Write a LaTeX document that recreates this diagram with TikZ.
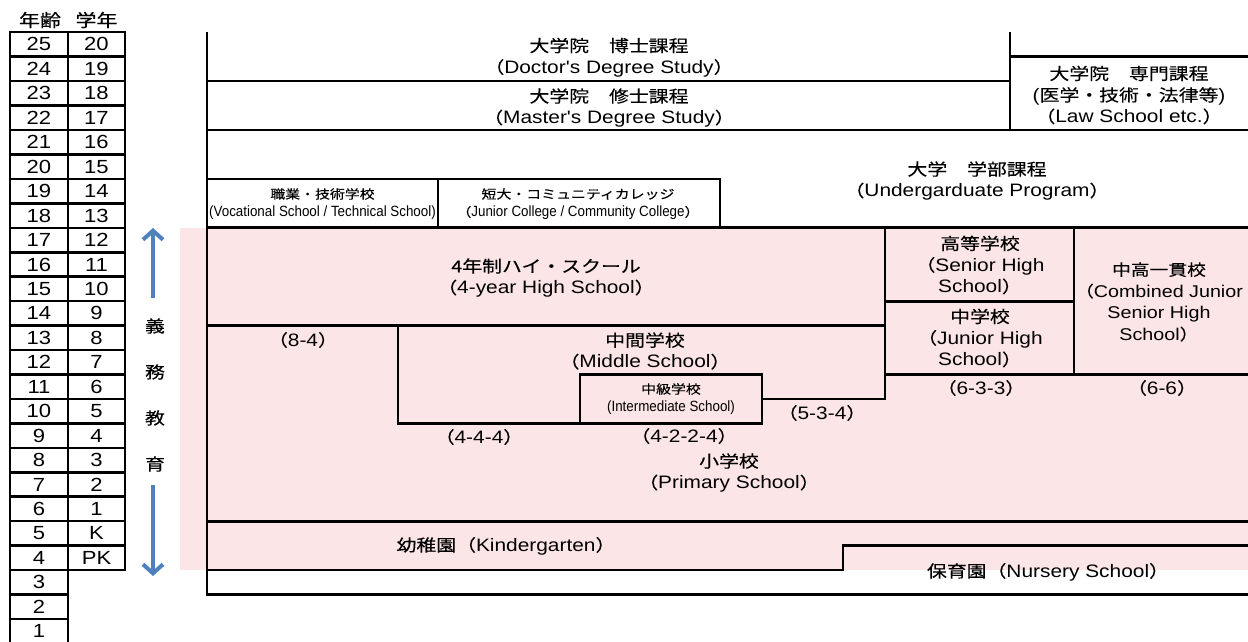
\documentclass[tikz,border=0pt]{standalone}
\usepackage{fontspec}
\setmainfont{Liberation Sans}[FakeStretch=1.16,Ligatures=TeXOff]
\newfontfamily\jp{Noto Sans CJK JP}[FakeStretch=1.2,Scale=0.92,FakeBold=0.3]
\newfontfamily\narrowfont{Liberation Sans}[FakeStretch=0.9,Scale=1.1]
\usetikzlibrary{arrows.meta}

\definecolor{hatchpink}{RGB}{252,229,231}
\definecolor{edublue}{RGB}{79,129,189}
\newcommand{\jlp}{{\jp （}}
\newcommand{\jrp}{{\jp ）}}

\tikzset{
  lineblock/.style={line width=2.7pt},
  agecell/.style={draw,line width=2.5pt,minimum width=58pt,minimum height=24.45pt,inner sep=0pt,font=\fontsize{19}{19}\selectfont},
  gradecell/.style={agecell,minimum width=57pt},
  schooltext/.style={align=center,inner sep=0pt,font=\fontsize{18}{21.5}\selectfont},
  smalltext/.style={align=center,inner sep=0pt,font=\fontsize{13.5}{18}\selectfont\narrowfont},
  eduarrow/.style={draw=edublue,line width=4pt,-{Straight Barb[length=9pt,width=20pt]}},
}

\begin{document}
\begin{tikzpicture}[x=1pt,y=-1pt]
			\useasboundingbox (0,0) rectangle (1248,641);
			\fill[hatchpink] (180,228) rectangle (1248,570.1);

			\draw[lineblock] (207,32.2) -- (207,594.6) -- (1248,594.6);
			\draw[lineblock] (207,81.1) -- (1010,81.1);
			\draw[lineblock] (1010,32.2) -- (1010,130);
			\draw[lineblock] (1010,56.7) -- (1248,56.7);
			\draw[lineblock] (207,130) -- (1248,130);
			\draw[lineblock] (207,178.9) -- (720,178.9) -- (720,227.8);
			\draw[lineblock] (438,178.9) -- (438,227.8);
			\draw[lineblock] (207,227.8) -- (1248,227.8);
			\draw[lineblock] (207,325.6) -- (885,325.6);
			\draw[lineblock] (885,227.8) -- (885,399) -- (762,399);
			\draw[lineblock] (398,325.6) -- (398,423.4) -- (580,423.4);
			\draw[lineblock] (580,374.5) rectangle (762,423.4);
			\draw[lineblock] (885,301.2) -- (1074,301.2);
			\draw[lineblock] (1074,227.8) -- (1074,374.5);
			\draw[lineblock] (885,374.5) -- (1248,374.5);
			\draw[lineblock] (207,521.2) -- (1248,521.2);
			\draw[lineblock] (207,570.1) -- (843,570.1) -- (843,545.7) -- (1248,545.7);

			\node (agehead) at (40,20) {\fontsize{19}{19}\selectfont\jp 年齢};
			\node (gradehead) at (96.5,20) {\fontsize{19}{19}\selectfont\jp 学年};

			\node[agecell] (a25) at (39,44.4) {25};
			\node[agecell] (a24) at (39,68.9) {24};
			\node[agecell] (a23) at (39,93.3) {23};
			\node[agecell] (a22) at (39,117.8) {22};
			\node[agecell] (a21) at (39,142.2) {21};
			\node[agecell] (a20) at (39,166.7) {20};
			\node[agecell] (a19) at (39,191.1) {19};
			\node[agecell] (a18) at (39,215.6) {18};
			\node[agecell] (a17) at (39,240.0) {17};
			\node[agecell] (a16) at (39,264.5) {16};
			\node[agecell] (a15) at (39,288.9) {15};
			\node[agecell] (a14) at (39,313.4) {14};
			\node[agecell] (a13) at (39,337.8) {13};
			\node[agecell] (a12) at (39,362.3) {12};
			\node[agecell] (a11) at (39,386.7) {11};
			\node[agecell] (a10) at (39,411.2) {10};
			\node[agecell] (a9) at (39,435.6) {9};
			\node[agecell] (a8) at (39,460.1) {8};
			\node[agecell] (a7) at (39,484.5) {7};
			\node[agecell] (a6) at (39,509.0) {6};
			\node[agecell] (a5) at (39,533.4) {5};
			\node[agecell] (a4) at (39,557.9) {4};
			\node[agecell] (a3) at (39,582.3) {3};
			\node[agecell] (a2) at (39,606.8) {2};
			\node[agecell] (a1) at (39,631.2) {1};

			\node[gradecell] (g20) at (96.5,44.4) {20};
			\node[gradecell] (g19) at (96.5,68.9) {19};
			\node[gradecell] (g18) at (96.5,93.3) {18};
			\node[gradecell] (g17) at (96.5,117.8) {17};
			\node[gradecell] (g16) at (96.5,142.2) {16};
			\node[gradecell] (g15) at (96.5,166.7) {15};
			\node[gradecell] (g14) at (96.5,191.1) {14};
			\node[gradecell] (g13) at (96.5,215.6) {13};
			\node[gradecell] (g12) at (96.5,240.0) {12};
			\node[gradecell] (g11) at (96.5,264.5) {11};
			\node[gradecell] (g10) at (96.5,288.9) {10};
			\node[gradecell] (g9) at (96.5,313.4) {9};
			\node[gradecell] (g8) at (96.5,337.8) {8};
			\node[gradecell] (g7) at (96.5,362.3) {7};
			\node[gradecell] (g6) at (96.5,386.7) {6};
			\node[gradecell] (g5) at (96.5,411.2) {5};
			\node[gradecell] (g4) at (96.5,435.6) {4};
			\node[gradecell] (g3) at (96.5,460.1) {3};
			\node[gradecell] (g2) at (96.5,484.5) {2};
			\node[gradecell] (g1) at (96.5,509.0) {1};
			\node[gradecell] (gK) at (96.5,533.4) {K};
			\node[gradecell] (gPK) at (96.5,557.9) {PK};

			\node[schooltext] (gi) at (155,326) {\jp 義};
			\node[schooltext] (mu) at (155,372) {\jp 務};
			\node[schooltext] (kyo) at (155,418) {\jp 教};
			\node[schooltext] (iku) at (155,464) {\jp 育};
			\coordinate (uptail) at (153,298);
			\coordinate (uphead) at (153,228);
			\coordinate (downtail) at (153,485);
			\coordinate (downhead) at (153,576);
			\draw[eduarrow] (uptail) -- (uphead);
			\draw[eduarrow] (downtail) -- (downhead);

			\node[schooltext] (doctor) at (609,57.5) {{\jp 大学院　博士課程}\\\jlp Doctor's Degree Study\jrp};
			\node[schooltext] (master) at (609,108) {{\jp 大学院　修士課程}\\\jlp Master's Degree Study\jrp};
			\node[schooltext] (lawschool) at (1129,95) {{\jp 大学院　専門課程}\\({\jp 医学・技術・法律等})\\\jlp Law School etc.\jrp};
			\node[schooltext] (undergrad) at (977,181) {{\jp 大学　学部課程}\\\jlp Undergarduate Program\jrp};
			\node[smalltext] (vocational) at (322.5,204) {{\jp 職業・技術学校}\\(Vocational School / Technical School)};
			\node[smalltext] (jrcollege) at (578,204) {{\jp 短大・コミュニティカレッジ}\\\jlp Junior College / Community College\jrp};
			\node[schooltext] (highfour) at (546,278) {{\jp 4年制ハイ・スクール}\\\jlp 4-year High School\jrp};
			\node[schooltext] (seniorhigh) at (980,265) {{\jp 高等学校}\\\jlp Senior High\\School\jrp};
			\node[schooltext,font=\fontsize{17}{21.5}\selectfont] (combined) at (1159,302) {{\jp 中高一貫校}\\\jlp Combined Junior\\Senior High\\School\jrp};
			\node[schooltext] (juniorhigh) at (980,338) {{\jp 中学校}\\\jlp Junior High\\School\jrp};
			\node[schooltext] (eightfour) at (303,340) {\jlp 8-4\jrp};
			\node[schooltext] (middle) at (645,351) {{\jp 中間学校}\\\jlp Middle School\jrp};
			\node[smalltext] (intermediate) at (671,399) {{\jp 中級学校}\\(Intermediate School)};
			\node[schooltext] (fivethreefour) at (822,413) {\jlp 5-3-4\jrp};
			\node[schooltext] (sixthreethree) at (981,388) {\jlp 6-3-3\jrp};
			\node[schooltext] (sixsix) at (1162,388) {\jlp 6-6\jrp};
			\node[schooltext] (fourfourfour) at (479,437) {\jlp 4-4-4\jrp};
			\node[schooltext] (fourtwotwofour) at (684,436) {\jlp 4-2-2-4\jrp};
			\node[schooltext] (primary) at (729,473) {{\jp 小学校}\\\jlp Primary School\jrp};
			\node[schooltext] (kindergarten) at (506,546) {{\jp 幼稚園（}Kindergarten\jrp};
			\node[schooltext] (nursery) at (1048,572) {{\jp 保育園（}Nursery School\jrp};
		\end{tikzpicture}
\end{document}
